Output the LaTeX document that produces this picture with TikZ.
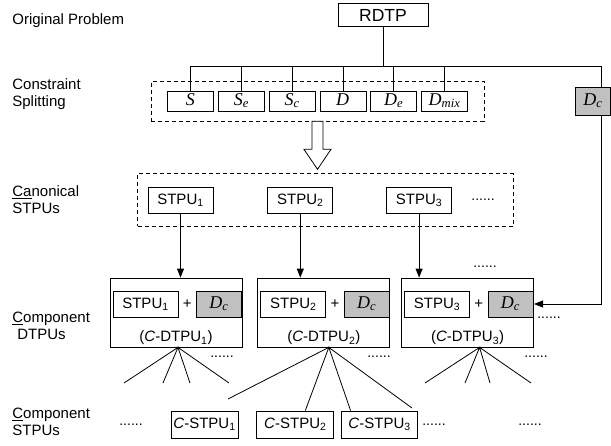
\documentclass[tikz,border=0pt]{standalone}
\usepackage{fontspec}
\setmainfont{Liberation Sans}
\newfontfamily\tms{Liberation Serif}
\usepackage{xcolor}
\usepackage{tikz}
\usetikzlibrary{arrows.meta, positioning, calc, fit}

\definecolor{boxgray}{RGB}{192,192,192}
\newcommand{\mvar}[2]{{\tms\itshape #1\textsubscript{#2}}}

\begin{document}
\begin{tikzpicture}[
        x=1pt, y=-1pt,
        font=\fontsize{15}{17}\selectfont,
        line width=0.8pt,
        block/.style={rectangle, draw, minimum width=65pt, minimum height=26pt, inner sep=2pt},
        varbox/.style={rectangle, draw, font=\fontsize{18}{20}\selectfont, text height=12pt, text depth=4pt, inner sep=1pt},
        grey/.style={varbox, fill=boxgray, minimum width=45pt, minimum height=26pt},
        unit/.style={rectangle, draw, minimum width=132pt, minimum height=69pt},
        group/.style={rectangle, draw, dash pattern=on 4pt off 3pt},
        dots/.style={inner sep=0pt, font=\fontsize{14}{16}\selectfont},
        lbl/.style={anchor=west, align=left, inner sep=0pt},
        arrow/.style={-{Triangle[length=9pt, width=7pt]}}
    ]
        \useasboundingbox (0,0) rectangle (611,445);

        % row labels
        \node[lbl] (lOrig) at (12,21) {Original Problem};
        \node[lbl] (lSplit) at (12,94) {Constraint\\Splitting};
        \node[lbl] (lCanon) at (12,200) {\underline{Ca}nonical\\STPUs};
        \node[lbl] (lDtpu) at (12,326) {\underline{C}omponent\\\hspace{5pt}DTPUs};
        \node[lbl] (lStpu) at (12,422) {\underline{C}omponent\\STPUs};

        % original problem and its constraint parts
        \node[block, font=\fontsize{17.5}{20}\selectfont, minimum width=90pt, minimum height=23pt] (rdtp) at (383,15) {RDTP};
        \coordinate (busR) at (601,66);

        \node[varbox, minimum width=46pt, minimum height=20pt] (sS) at (190.5,101) {\mvar{S}{}};
        \node[varbox, minimum width=46pt, minimum height=20pt, right=4pt of sS] (sSe) {\mvar{S}{e}};
        \node[varbox, minimum width=46pt, minimum height=20pt, right=4pt of sSe] (sSc) {\mvar{S}{c}};
        \node[varbox, minimum width=46pt, minimum height=20pt, right=4pt of sSc] (sD) {\mvar{D}{}};
        \node[varbox, minimum width=46pt, minimum height=20pt, right=4pt of sD] (sDe) {\mvar{D}{e}};
        \node[varbox, minimum width=46pt, minimum height=20pt, right=4pt of sDe] (sDmix) {\mvar{D}{mix}};
        \node[group, fit=(sS)(sDmix), inner xsep=16pt, inner ysep=9.5pt] (split) {};

        \draw (rdtp) -- (rdtp |- busR);
        \draw (sS) |- (busR);
        \draw (sSe) -- (sSe |- busR);
        \draw (sSc) -- (sSc |- busR);
        \draw (sD) -- (sD |- busR);
        \draw (sDe) -- (sDe |- busR);
        \draw (sDmix) -- (sDmix |- busR);

        % hollow block arrow down to the canonical STPUs
        \draw[fill=white] ([xshift=-5.5pt]split.south) -- ++(11,0) -- ++(0,28) -- ++(8,0)
            -- ++(-13.5,20) -- ++(-13.5,-20) -- ++(8,0) -- cycle;

        % canonical STPUs
        \node[block] (stpuA) at (180.5,200) {STPU\textsubscript{1}};
        \node[block, right=54pt of stpuA] (stpuB) {STPU\textsubscript{2}};
        \node[block, right=53pt of stpuB] (stpuC) {STPU\textsubscript{3}};
        \node[dots, right=19pt of stpuC] (dotsB) {......};
        \coordinate (canonE) at ([xshift=8pt]dotsB.east);
        \node[group, fit=(stpuA)(stpuC)(canonE), inner xsep=10pt, inner ysep=13pt] (canon) {};

        % component DTPUs
        \node[unit] (cdtpuA) at (176,312.5) {};
        \node[unit, right=15pt of cdtpuA] (cdtpuB) {};
        \node[unit, right=11pt of cdtpuB] (cdtpuC) {};

        \node[block, below right=13pt and 3pt of cdtpuA.north west] (inA) {STPU\textsubscript{1}};
        \node[inner sep=0pt, right=4pt of inA] (plusA) {+};
        \node[grey, right=4pt of plusA] (dcA) {\mvar{D}{c}};
        \node[inner sep=2pt, above=0pt of cdtpuA.south] (lblA) {(\textit{C}-DTPU\textsubscript{1})};

        \node[block, below right=13pt and 3pt of cdtpuB.north west] (inB) {STPU\textsubscript{2}};
        \node[inner sep=0pt, right=4pt of inB] (plusB) {+};
        \node[grey, right=4pt of plusB] (dcB) {\mvar{D}{c}};
        \node[inner sep=2pt, above=0pt of cdtpuB.south] (lblB) {(\textit{C}-DTPU\textsubscript{2})};

        \node[block, below right=13pt and 3pt of cdtpuC.north west] (inC) {STPU\textsubscript{3}};
        \node[inner sep=0pt, right=4pt of inC] (plusC) {+};
        \node[grey, right=4pt of plusC] (dcC) {\mvar{D}{c}};
        \node[inner sep=2pt, above=0pt of cdtpuC.south] (lblC) {(\textit{C}-DTPU\textsubscript{3})};

        \node[dots] (dotsU) at (485,267) {......};
        \node[dots] (dotsR) at (549,318) {......};

        \draw[arrow] (stpuA) -- (stpuA |- cdtpuA.north);
        \draw[arrow] (stpuB) -- (stpuB |- cdtpuB.north);
        \draw[arrow] (stpuC) -- (stpuC |- cdtpuC.north);
        \draw[arrow] (busR) |- (cdtpuC.east |- dcC);

        % the shared D_c sits on the feed line
        \node[varbox, fill=boxgray, minimum width=35pt, minimum height=28pt] (dcR) at (593,101) {\mvar{D}{c}};

        % component STPUs
        \node[block, minimum width=67pt, minimum height=27pt] (cstpuA) at (204.5,424.5) {\textit{C}-STPU\textsubscript{1}};
        \node[block, minimum width=77pt, minimum height=27pt, right=18pt of cstpuA] (cstpuB) {\textit{C}-STPU\textsubscript{2}};
        \node[block, minimum width=76pt, minimum height=27pt, right=7pt of cstpuB] (cstpuC) {\textit{C}-STPU\textsubscript{3}};
        \node[dots] (dotsL) at (131,425) {......};
        \node[dots] (dotsM) at (434,425) {......};
        \node[dots] (dotsN) at (530,425) {......};

        \coordinate (fanA) at ([xshift=2pt]cdtpuA.south);
        \coordinate (fanB) at ([xshift=5pt]cdtpuB.south);
        \coordinate (fanC) at ([xshift=12pt]cdtpuC.south);
        \coordinate (a1) at (124,383);
        \coordinate (a2) at (163,383);
        \coordinate (a3) at (190,383);
        \coordinate (a4) at (229,383);
        \coordinate (b1) at (228,399);
        \coordinate (b4) at (412,408);
        \coordinate (c1) at (425,383);
        \coordinate (c2) at (465,383);
        \coordinate (c3) at (490,383);
        \coordinate (c4) at (531,383);

        \draw (a1) -- (fanA) -- (a2) (a3) -- (fanA) -- (a4);
        \draw (b1) -- (fanB) -- ([xshift=10pt]cstpuB.north) ([xshift=-29pt]cstpuC.north) -- (fanB) -- (b4);
        \draw (c1) -- (fanC) -- (c2) (c3) -- (fanC) -- (c4);

        \node[dots] (dotsFA) at (222,357) {......};
        \node[dots] (dotsFB) at (379,357) {......};
        \node[dots] (dotsFC) at (536,357) {......};
    \end{tikzpicture}
\end{document}
